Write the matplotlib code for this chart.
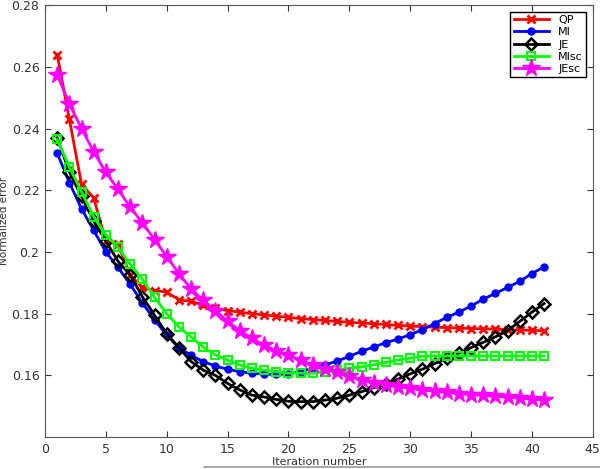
import matplotlib
matplotlib.use("Agg")
import matplotlib.pyplot as plt
from matplotlib.lines import Line2D
import numpy as np

# Iterations
iters = np.arange(1, 42)

qp = [0.264, 0.243, 0.222, 0.2175, 0.2035, 0.2025, 0.1925, 0.1885, 0.1875, 0.187,
      0.1845, 0.184, 0.1828, 0.1818, 0.181, 0.1805, 0.180, 0.1796, 0.1792, 0.1788,
      0.1784, 0.1781, 0.1778, 0.1775, 0.1772, 0.1770, 0.1767, 0.1765, 0.1762, 0.1760,
      0.1758, 0.1756, 0.1755, 0.1753, 0.1752, 0.1751, 0.1750, 0.1748, 0.1747, 0.1746,
      0.1745]

mi = [0.232, 0.2225, 0.214, 0.207, 0.200, 0.195, 0.1895, 0.1835, 0.178, 0.173,
      0.169, 0.1665, 0.1645, 0.163, 0.162, 0.1612, 0.1607, 0.1604, 0.1603, 0.1605,
      0.1612, 0.1624, 0.1634, 0.1646, 0.1662, 0.1678, 0.1692, 0.1706, 0.1718, 0.1732,
      0.1748, 0.1768, 0.1788, 0.1805, 0.1825, 0.1847, 0.1866, 0.1885, 0.1905, 0.193,
      0.1952]

je = [0.237, 0.226, 0.218, 0.210, 0.2035, 0.197, 0.1925, 0.1855, 0.1795, 0.1735,
      0.169, 0.1645, 0.1617, 0.160, 0.1574, 0.1553, 0.1536, 0.153, 0.1522, 0.1516,
      0.1515, 0.1515, 0.152, 0.1526, 0.1536, 0.1547, 0.156, 0.1573, 0.1588, 0.1605,
      0.162, 0.1638, 0.1655, 0.1672, 0.169, 0.1707, 0.1725, 0.1745, 0.1775, 0.1805,
      0.1833]

misc = [0.2365, 0.2275, 0.2195, 0.2115, 0.2055, 0.2015, 0.196, 0.1912, 0.1853, 0.1800,
        0.1757, 0.1725, 0.1692, 0.1666, 0.165, 0.1634, 0.1623, 0.1617, 0.1612, 0.1607,
        0.1607, 0.1607, 0.1612, 0.1617, 0.1623, 0.1628, 0.1634, 0.1642, 0.1650, 0.1656,
        0.1662, 0.1663, 0.1663, 0.1663, 0.1663, 0.1663, 0.1663, 0.1663, 0.1663, 0.1663,
        0.1663]

jesc = [0.2575, 0.248, 0.240, 0.2325, 0.2258, 0.2203, 0.2145, 0.2095, 0.204, 0.1985,
        0.193, 0.188, 0.1843, 0.181, 0.1775, 0.1745, 0.172, 0.1698, 0.168, 0.1665,
        0.165, 0.1633, 0.162, 0.161, 0.1598, 0.1586, 0.1576, 0.1569, 0.1563, 0.1558,
        0.1553, 0.1548, 0.1545, 0.1541, 0.1538, 0.1535, 0.1532, 0.1529, 0.1526, 0.1523,
        0.152]

xticks = list(range(0, 50, 5))
yticks = [0.16, 0.18, 0.20, 0.22, 0.24, 0.26, 0.28]
ytick_labels = ["0.16", "0.18", "0.2", "0.22", "0.24", "0.26", "0.28"]

fig = plt.figure(figsize=(6, 4.69), dpi=100)
ax = fig.add_axes([0.075, 0.068, 0.913, 0.921])

ax.plot(iters, qp, color="#ff0000", lw=2, marker="x", ms=6, mew=2, label="QP")
ax.plot(iters, mi, color="#0000ff", lw=2, marker="o", ms=5, mfc="#0000ff", label="MI")
ax.plot(iters, je, color="#000000", lw=2, marker="D", ms=6.5, mfc="none", mew=1.8, label="JE")
ax.plot(iters, misc, color="#00ff00", lw=2, marker="s", ms=5.5, mfc="none", mew=1.5, label="MIsc")
ax.plot(iters, jesc, color="#ff00ff", lw=2, marker="*", ms=13, mfc="#ff00ff", label="JEsc")

ax.set_xlim(0, 45)
ax.set_ylim(0.14, 0.28)
ax.set_xticks(xticks)
ax.set_yticks(yticks)
ax.set_yticklabels(ytick_labels)
ax.tick_params(direction="in", top=True, right=True, labelsize=9, colors="#333333",
               length=4, pad=4)
for s in ax.spines.values():
    s.set_color("#555555")

ax.set_ylabel("Normalized error", fontsize=7.5, color="#333333", labelpad=2)
ax.set_xlabel("Iteration number", fontsize=8, color="#333333", labelpad=1)

leg = ax.legend(loc="upper right", fontsize=8, fancybox=False, framealpha=1,
                edgecolor="black", handlelength=3.2, borderaxespad=0.6,
                labelspacing=0.2, borderpad=0.3)
leg.get_frame().set_linewidth(1.0)

# thin gray line along the bottom of the image
fig.add_artist(Line2D([0.34, 1.0], [0.004, 0.004], color="#999999", lw=1.2,
                      transform=fig.transFigure))

fig.savefig("out.png", dpi=100)
